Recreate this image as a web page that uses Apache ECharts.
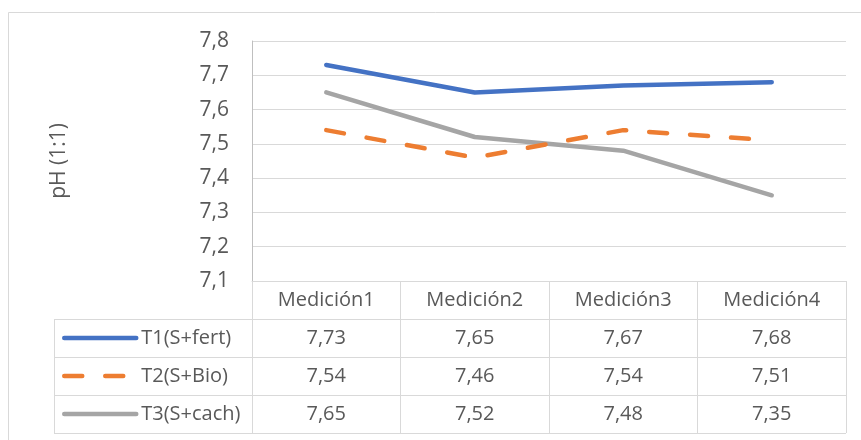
<!DOCTYPE html>
<html>
<head>
<meta charset="utf-8">
<script src="https://cdn.jsdelivr.net/npm/echarts@6/dist/echarts.min.js"></script>
<style>
  html, body { margin: 0; padding: 0; background: #ffffff; }
  #chart { width: 861px; height: 440px; }
</style>
</head>
<body>
<div id="chart"></div>
<script>
// pH measurements per treatment, four sampling rounds
const categories = ['Medición1', 'Medición2', 'Medición3', 'Medición4'];
const seriesNames = ['T1(S+fert)', 'T2(S+Bio)', 'T3(S+cach)'];
const t1 = [7.73, 7.65, 7.67, 7.68];
const t2 = [7.54, 7.46, 7.54, 7.51];
const t3 = [7.65, 7.52, 7.48, 7.35];
const yMin = 7.1, yMax = 7.8, yStep = 0.1;
const yTitle = 'pH (1:1)';

const colors = ['#4472C4', '#ED7D31', '#A5A5A5'];
const seriesValues = [t1, t2, t3];
const textColor = '#595959';
const ruleColor = '#d9d9d9';
const font = 'Open Sans';
const lineW = 4.5;
const dash = [18, 23];

// layout of the plot and of the data table beneath it
const W = 861, H = 440;
const plotLeft = 252, plotRight = 846, plotTop = 41, plotBottom = 281;
const rowH = 38;
const tableLeft = 54;
const tableBottom = plotBottom + rowH * 4;

const comma = v => v.toFixed(2).replace('.', ',');

const chart = echarts.init(document.getElementById('chart'), null, { renderer: 'canvas' });

// one extra category axis per series row: its labels are the table cells
const rowAxes = seriesValues.map((vals, i) => ({
  type: 'category',
  gridIndex: 0,
  position: 'bottom',
  offset: rowH * (i + 1),
  data: vals.map(comma),
  axisLine: { show: false },
  axisTick: { show: false },
  axisLabel: {
    margin: rowH / 2, verticalAlign: 'middle', interval: 0,
    fontSize: 20, color: textColor, fontFamily: font
  }
}));

// horizontal rules of the table (series rows span the legend column too)
const tableRules = [];
for (let r = 1; r <= 4; r++) {
  const y = plotBottom + rowH * r + 0.5;
  tableRules.push({ type: 'line', silent: true,
    shape: { x1: tableLeft, y1: y, x2: plotRight, y2: y },
    style: { stroke: ruleColor, lineWidth: 1 } });
}
tableRules.push({ type: 'line', silent: true,
  shape: { x1: tableLeft + 0.5, y1: plotBottom + rowH, x2: tableLeft + 0.5, y2: tableBottom },
  style: { stroke: ruleColor, lineWidth: 1 } });

const option = {
  animation: false,
  backgroundColor: '#ffffff',
  textStyle: { fontFamily: font },
  grid: { left: plotLeft, right: W - plotRight, top: plotTop, bottom: H - plotBottom, containLabel: false },
  legend: {
    orient: 'vertical',
    left: 62,
    top: plotBottom + rowH + rowH / 2 - 10,
    itemWidth: 72,
    itemHeight: 20,
    itemGap: rowH - 20,
    padding: 0,
    selectedMode: false,
    itemStyle: { opacity: 0 },
    lineStyle: { width: lineW, cap: 'round' },
    textStyle: { fontSize: 20, color: textColor, fontFamily: font, lineHeight: 20 },
    data: seriesNames
  },
  xAxis: [{
    type: 'category',
    gridIndex: 0,
    position: 'bottom',
    boundaryGap: true,
    data: categories,
    axisLine: { show: true, lineStyle: { color: ruleColor, width: 1 } },
    axisTick: { show: true, interval: 0, length: tableBottom - plotBottom, lineStyle: { color: ruleColor, width: 1 } },
    axisLabel: { margin: rowH / 2, verticalAlign: 'middle', interval: 0, fontSize: 20, color: textColor, fontFamily: font },
    splitLine: { show: false }
  }].concat(rowAxes),
  yAxis: {
    type: 'value',
    min: yMin, max: yMax, interval: yStep,
    name: yTitle,
    nameLocation: 'middle',
    nameGap: 182,
    nameTextStyle: { fontSize: 21, color: textColor, fontFamily: font },
    axisLine: { show: true, lineStyle: { color: '#bfbfbf', width: 1 } },
    axisTick: { show: false },
    axisLabel: { margin: 23, fontSize: 21, color: textColor, fontFamily: font,
      formatter: v => v.toFixed(1).replace('.', ',') },
    splitLine: { show: true, lineStyle: { color: ruleColor, width: 1 } }
  },
  series: seriesNames.map((name, i) => ({
    name,
    type: 'line',
    xAxisIndex: 0,
    data: seriesValues[i],
    symbol: 'none',
    color: colors[i],
    lineStyle: {
      color: colors[i], width: lineW, cap: 'round', join: 'round',
      type: i === 1 ? dash : 'solid'
    },
    z: 5 - i
  })),
  graphic: [
    { type: 'rect', silent: true, z: -1,
      shape: { x: 8.5, y: 12.5, width: W + 20, height: H + 20 },
      style: { fill: 'none', stroke: ruleColor, lineWidth: 1 } }
  ].concat(tableRules)
};

chart.setOption(option);
</script>
</body>
</html>
